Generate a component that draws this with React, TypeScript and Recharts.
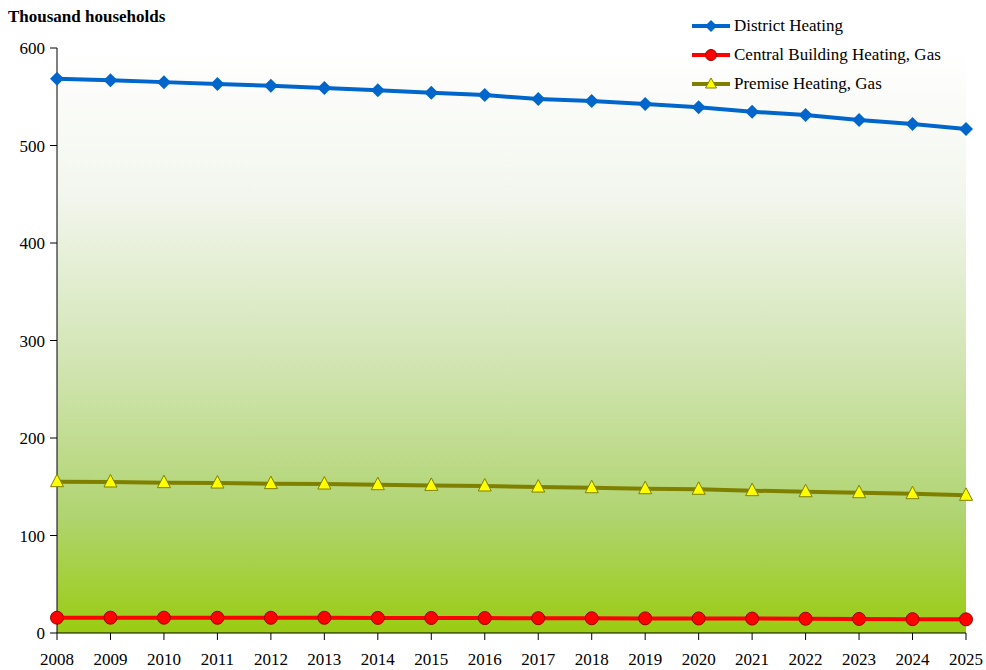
import { LineChart, Line, XAxis, YAxis, CartesianGrid, Legend } from 'recharts'

const YEARS = [
  '2008', '2009', '2010', '2011', '2012', '2013', '2014', '2015', '2016',
  '2017', '2018', '2019', '2020', '2021', '2022', '2023', '2024', '2025',
]

const DISTRICT_HEATING = [
  568.5, 567, 565, 563, 561.3, 559, 556.6, 554.2, 551.8,
  547.7, 545.6, 542.6, 539.2, 534.7, 531.3, 526.2, 522.1, 516.9,
]

const CENTRAL_GAS = [
  15.7, 15.7, 15.7, 15.6, 15.6, 15.6, 15.5, 15.4, 15.3,
  15.2, 15.1, 15.0, 14.9, 14.8, 14.6, 14.4, 14.2, 14.0,
]

const PREMISE_GAS = [
  155.2, 154.9, 154.2, 153.8, 153.2, 152.8, 152.1, 151.4, 150.8,
  149.7, 149, 148, 147.4, 146, 144.9, 143.9, 142.9, 141.2,
]

const Y_TICKS = [0, 100, 200, 300, 400, 500, 600]

const FONT = '"Liberation Serif", "Times New Roman", serif'

const chartData = YEARS.map((year, i) => ({
  year,
  district: DISTRICT_HEATING[i],
  central: CENTRAL_GAS[i],
  premise: PREMISE_GAS[i],
}))

type DotProps = { cx?: number; cy?: number; index?: number }

const Diamond = ({ cx = 0, cy = 0, index }: DotProps) => (
  <path
    key={`d-${index}`}
    d={`M${cx},${cy - 7} L${cx + 7},${cy} L${cx},${cy + 7} L${cx - 7},${cy} Z`}
    fill="#0066cc"
  />
)

const Circle = ({ cx = 0, cy = 0, index }: DotProps) => (
  <circle key={`c-${index}`} cx={cx} cy={cy} r={6.5} fill="#ff0000" stroke="#990000" strokeWidth={1} />
)

const Triangle = ({ cx = 0, cy = 0, index }: DotProps) => (
  <path
    key={`t-${index}`}
    d={`M${cx},${cy - 7.5} L${cx + 6.5},${cy + 5} L${cx - 6.5},${cy + 5} Z`}
    fill="#ffff00"
    stroke="#808000"
    strokeWidth={1}
  />
)

const LEGEND_ITEMS = [
  { label: 'District Heating', color: '#0066cc', icon: 'diamond' },
  { label: 'Central Building Heating, Gas', color: '#ff0000', icon: 'circle' },
  { label: 'Premise Heating, Gas', color: '#808000', icon: 'triangle' },
]

function LegendContent() {
  return (
    <div style={{ fontFamily: FONT, fontSize: 17, color: '#000' }}>
      {LEGEND_ITEMS.map((item) => (
        <div key={item.label} style={{ display: 'flex', alignItems: 'center', height: 29 }}>
          <svg width={41} height={16} style={{ marginRight: 1 }}>
            <line x1={0} y1={8} x2={38} y2={8} stroke={item.color} strokeWidth={4} />
            {item.icon === 'diamond' && <path d="M19,2 L25,8 L19,14 L13,8 Z" fill="#0066cc" />}
            {item.icon === 'circle' && (
              <circle cx={19} cy={8} r={5.5} fill="#ff0000" stroke="#990000" strokeWidth={1} />
            )}
            {item.icon === 'triangle' && (
              <path d="M19,2 L24.5,12 L13.5,12 Z" fill="#ffff00" stroke="#808000" strokeWidth={1} />
            )}
          </svg>
          <span>{item.label}</span>
        </div>
      ))}
    </div>
  )
}

export default function App() {
  return (
    <div style={{ position: 'absolute', left: 0, top: 0, width: 986, height: 670, background: '#fff' }}>
      <div
        style={{
          position: 'absolute',
          left: 8,
          top: 7,
          fontFamily: FONT,
          fontWeight: 'bold',
          fontSize: 17,
          color: '#000',
        }}
      >
        Thousand households
      </div>
      <LineChart
        width={986}
        height={670}
        data={chartData}
        margin={{ top: 48, right: 20, left: 0, bottom: 0 }}
      >
        <defs>
          <linearGradient id="plotBg" x1="0" y1="0" x2="0" y2="1">
            <stop offset="0%" stopColor="#ffffff" />
            <stop offset="25%" stopColor="#f3f6ee" />
            <stop offset="55%" stopColor="#d0e4b0" />
            <stop offset="80%" stopColor="#b0d470" />
            <stop offset="100%" stopColor="#99cc11" />
          </linearGradient>
        </defs>
        <CartesianGrid horizontal={false} vertical={false} fill="url(#plotBg)" />
        <XAxis
          dataKey="year"
          height={37}
          padding={{ left: 0, right: 0 }}
          axisLine={{ stroke: '#000', strokeWidth: 1 }}
          tickLine={{ stroke: '#000' }}
          tickSize={7}
          tickMargin={13}
          interval={0}
          tick={{ fill: '#000', fontSize: 17, fontFamily: FONT }}
        />
        <YAxis
          width={57}
          domain={[0, 600]}
          ticks={Y_TICKS}
          axisLine={{ stroke: '#000', strokeWidth: 1 }}
          tickLine={{ stroke: '#000' }}
          tickSize={7}
          tickMargin={5}
          tick={{ fill: '#000', fontSize: 17, fontFamily: FONT }}
        />
        <Legend
          layout="horizontal"
          verticalAlign="middle"
          align="center"
          content={<LegendContent />}
          wrapperStyle={{ position: 'absolute', left: 692, top: 11, width: 290 }}
        />
        <Line
          dataKey="district"
          stroke="#0066cc"
          strokeWidth={4}
          dot={Diamond}
          activeDot={false}
          isAnimationActive={false}
        />
        <Line
          dataKey="central"
          stroke="#ff0000"
          strokeWidth={4}
          dot={Circle}
          activeDot={false}
          isAnimationActive={false}
        />
        <Line
          dataKey="premise"
          stroke="#808000"
          strokeWidth={4}
          dot={Triangle}
          activeDot={false}
          isAnimationActive={false}
        />
      </LineChart>
    </div>
  )
}
